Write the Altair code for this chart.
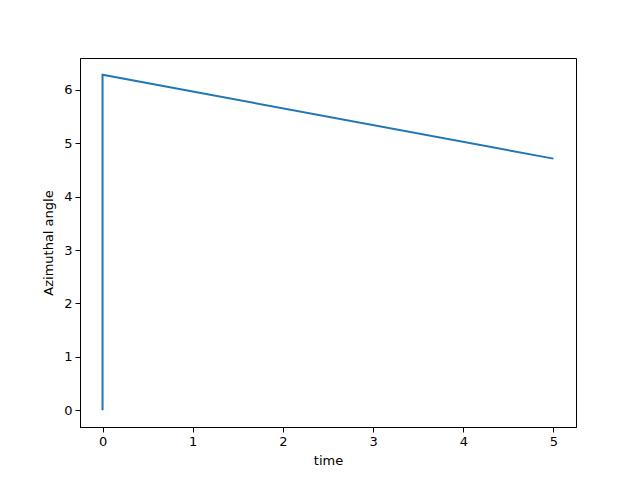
import altair as alt
import pandas as pd

times = [0.0, 0.0, 5.0]
angles = [0.0, 6.2832, 4.7124]
x_ticks = [0, 1, 2, 3, 4, 5]
y_ticks = [0, 1, 2, 3, 4, 5, 6]

df = pd.DataFrame({"time": times, "angle": angles, "order": list(range(len(times)))})

chart = alt.Chart(df).mark_line(color="#1f77b4", strokeWidth=2).encode(
    x=alt.X("time:Q", title="time",
            scale=alt.Scale(domain=[-0.25, 5.25], nice=False, zero=False),
            axis=alt.Axis(values=x_ticks, format="d")),
    y=alt.Y("angle:Q", title="Azimuthal angle",
            scale=alt.Scale(domain=[-0.314, 6.597], nice=False, zero=False),
            axis=alt.Axis(values=y_ticks, format="d")),
    order="order:Q",
).properties(
    width=496, height=369,
    autosize=alt.AutoSizeParams(type="none"),
    padding={"left": 72, "top": 50, "right": 48, "bottom": 40},
).configure_view(
    stroke="black", strokeWidth=1
).configure_axis(
    grid=False, domainColor="black", tickColor="black", tickSize=5,
    labelFont="DejaVu Sans", labelFontSize=13, labelColor="black", labelPadding=3,
    titleFont="DejaVu Sans", titleFontSize=13, titleFontWeight="normal", titleColor="black",
    domainWidth=1, tickWidth=1
).configure_axisX(titlePadding=6).configure_axisY(titlePadding=8)

chart.save("out.html", embed_options={"renderer": "svg", "actions": False})
